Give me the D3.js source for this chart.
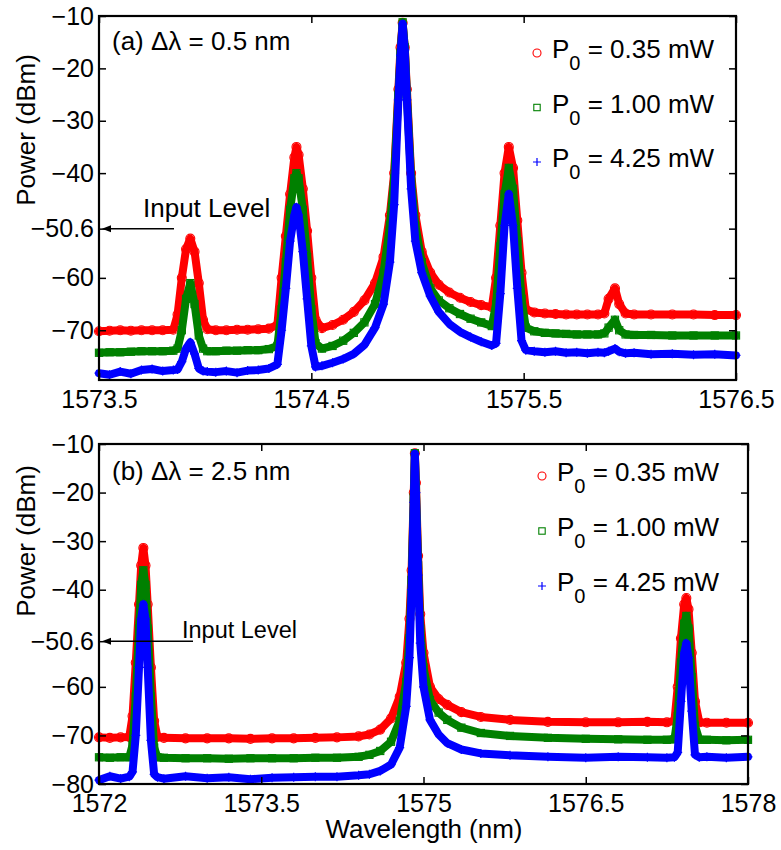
<!DOCTYPE html>
<html><head><meta charset="utf-8">
<script src="https://cdn.jsdelivr.net/npm/d3@7"></script>
<style>body{margin:0;background:#fff}</style>
</head><body><svg id="c" width="781" height="850"></svg>
<script>
// ---------- Panel (a): delta lambda = 0.5 nm ----------
const wlA = [1573.50, 1573.55, 1573.60, 1573.65, 1573.70, 1573.75, 1573.80, 1573.85,
  1573.87, 1573.89, 1573.91, 1573.93, 1573.95, 1573.97, 1573.99, 1574.01,
  1574.05, 1574.10, 1574.15, 1574.20, 1574.25, 1574.30,
  1574.34, 1574.36, 1574.38, 1574.40, 1574.42, 1574.43, 1574.44, 1574.46, 1574.48, 1574.50, 1574.52,
  1574.55, 1574.60, 1574.65, 1574.70, 1574.75, 1574.80,
  1574.84, 1574.87, 1574.89, 1574.91, 1574.92, 1574.93, 1574.94, 1574.95, 1574.97, 1574.99, 1575.02, 1575.06, 1575.10, 1575.15, 1575.20, 1575.25, 1575.30,
  1575.35,
  1575.37, 1575.39, 1575.41, 1575.43, 1575.45, 1575.47, 1575.49, 1575.51,
  1575.55, 1575.60, 1575.65, 1575.70, 1575.75, 1575.80, 1575.85,
  1575.88, 1575.90, 1575.93, 1575.95, 1575.98,
  1576.02, 1576.10, 1576.20, 1576.30, 1576.40, 1576.50];
const redA = [-70.2, -70.1, -70.0, -70.1, -70.0, -70.0, -70.0, -69.9,
  -67, -60, -54.5, -52.5, -55, -61, -68, -69.8,
  -70.0, -70.0, -69.9, -69.9, -69.8, -69.7,
  -69, -60, -52, -44, -37, -35, -36.5, -43, -51, -60, -68,
  -69.6, -69.0, -68.0, -66.5, -64.3, -61.0,
  -56, -48, -40, -24, -16, -11.3, -16, -24, -40, -48, -55, -59, -61.3, -62.8, -63.8, -64.6, -65.2,
  -65.6,
  -60, -50, -40, -35, -39, -49, -59, -66,
  -66.6, -66.8, -66.9, -67.0, -67.0, -67.0, -67.0,
  -66.8, -64, -62, -65, -66.8,
  -67.0, -67.0, -67.0, -67.0, -67.1, -67.1];
const greenA = [-74.3, -74.2, -74.2, -74.1, -74.0, -74.0, -74.0, -73.9,
  -73.5, -70, -64, -61, -65, -71, -73.5, -74.0,
  -74.0, -73.9, -73.9, -73.8, -73.8, -73.6,
  -73, -66, -57, -47, -41, -40, -41, -47, -56, -66, -72.5,
  -73.5, -73.0, -72.0, -70.5, -68.5, -65.0,
  -59, -50, -41, -25, -17, -11.2, -16, -25, -41, -50, -57, -62, -64.3, -65.8, -66.9, -67.8, -68.5,
  -69.2,
  -65, -54, -44, -39, -43, -53, -64, -69.5,
  -70.2, -70.5, -70.6, -70.7, -70.8, -70.8, -70.8,
  -70.6, -69.5, -68, -70, -70.8,
  -70.9, -70.9, -71.0, -71.0, -71.0, -71.0];
const blueA = [-78.2, -78.5, -77.9, -78.3, -77.6, -77.4, -77.8, -77.6,
  -77.5, -76, -73.5, -72.3, -74.5, -77.3, -77.8, -77.9,
  -78.0, -77.8, -78.1, -77.7, -77.6, -77.3,
  -76.5, -70, -62, -53, -48, -46.5, -48, -55, -64, -73, -77,
  -76.8, -76.2, -75.5, -74.5, -72.8, -69.5,
  -65, -57, -46, -26, -17.5, -11.5, -16.5, -26, -43, -53, -59, -63.5, -66.5, -68.8, -70.3, -71.3, -72.2,
  -72.9,
  -72.5, -63, -50, -44, -50, -62, -72, -73.8,
  -74.0, -74.2, -74.0, -74.3, -74.2, -74.4, -74.2,
  -74.3, -74.0, -73.5, -74.1, -74.4,
  -74.3, -74.6, -74.5, -74.7, -74.6, -74.8];
const xTicksA = [1573.5, 1574.5, 1575.5, 1576.5];
const xLabelsA = ["1573.5", "1574.5", "1575.5", "1576.5"];
const yTicksA = [-10, -20, -30, -40, -50.6, -60, -70];

// ---------- Panel (b): delta lambda = 2.5 nm ----------
const wlB = [1572.00, 1572.10, 1572.20, 1572.28,
  1572.31, 1572.34, 1572.37, 1572.39, 1572.41, 1572.43, 1572.45, 1572.48, 1572.51, 1572.54,
  1572.60, 1572.80, 1573.00, 1573.20, 1573.40, 1573.60, 1573.80, 1574.00, 1574.20, 1574.40,
  1574.50, 1574.60, 1574.70, 1574.78,
  1574.84, 1574.87, 1574.89, 1574.91, 1574.92, 1574.93, 1574.95, 1574.97,
  1575.00, 1575.06, 1575.14, 1575.22, 1575.35, 1575.53, 1575.80,
  1576.15, 1576.50, 1576.80,
  1577.07, 1577.25, 1577.32, 1577.35, 1577.38, 1577.41, 1577.43, 1577.45, 1577.48, 1577.51, 1577.55, 1577.62, 1577.80, 1578.00];
const redB = [-70.4, -70.5, -70.4, -70.3,
  -66, -55, -43, -35, -31.4, -35, -43, -56, -67, -70.3,
  -70.5, -70.6, -70.6, -70.6, -70.7, -70.6, -70.6, -70.5, -70.4, -70.2,
  -69.8, -68.8, -66.5, -62,
  -55, -46, -36, -20, -11.9, -18, -33, -45,
  -53, -60, -62.5, -63.7, -65.2, -66.2, -66.8,
  -67.2, -67.3, -67.3,
  -67.2, -67.3, -67, -60, -50, -43, -41.7, -44, -53, -63, -67.3, -67.4, -67.4, -67.4];
const greenB = [-74.5, -74.6, -74.5, -74.5,
  -72, -62, -48, -39, -36, -39, -48, -62, -72.5, -74.5,
  -74.6, -74.7, -74.7, -74.8, -74.7, -74.7, -74.7, -74.6, -74.6, -74.4,
  -74.0, -73.2, -71.3, -67,
  -59, -50, -38, -21, -11.9, -19, -35, -48,
  -56, -62.7, -65.3, -66.8, -68.4, -69.5, -70.1,
  -70.5, -70.7, -70.8,
  -70.9, -70.9, -70.8, -66, -55, -47, -45.4, -48, -58, -68, -70.9, -70.9, -71.0, -70.9];
const blueB = [-79.2, -78.4, -78.9, -78.5,
  -77.5, -70, -56, -46, -43, -46, -56, -71, -78, -78.6,
  -78.9, -78.4, -78.8, -78.6, -79.0, -78.7, -78.6, -78.5, -78.5, -78.2,
  -78.0, -77.3, -76, -72.5,
  -64, -54, -40, -22, -12, -20, -37, -51,
  -60, -66.8, -69.8, -71.6, -72.9, -73.7, -74.1,
  -74.4, -74.6, -74.4,
  -74.5, -74.6, -74.5, -73.5, -63, -53, -51, -54, -65, -74, -74.5, -74.4, -74.6, -74.4];
const xTicksB = [1572, 1573.5, 1575, 1576.5, 1578];
const xLabelsB = ["1572", "1573.5", "1575", "1576.5", "1578"];
const yTicksB = [-10, -20, -30, -40, -50.6, -60, -70, -80];

const legendPowers = ["0.35", "1.00", "4.25"];
const seriesColors = ["#ff0000", "#008000", "#0000ff"];
const seriesShapes = ["circle", "square", "plus"];

const FONT = "'Liberation Sans', Arial, Helvetica, sans-serif";
const svg = d3.select("#c");

function marker(g, shape, cx, cy, color, s) {
  if (shape === "circle") {
    g.append("circle").attr("cx", cx).attr("cy", cy).attr("r", s)
      .attr("fill", "none").attr("stroke", color).attr("stroke-width", 1.1);
  } else if (shape === "square") {
    g.append("rect").attr("x", cx - s * 0.8).attr("y", cy - s * 0.8)
      .attr("width", s * 1.6).attr("height", s * 1.6)
      .attr("fill", "none").attr("stroke", color).attr("stroke-width", 1.1);
  } else {
    g.append("path").attr("d", `M${cx - s},${cy}H${cx + s}M${cx},${cy - s}V${cy + s}`)
      .attr("stroke", color).attr("stroke-width", 1.2).attr("fill", "none");
  }
}

function fmtY(d) { return (d < 0 ? "\u2212" : "") + Math.abs(d); }

function panel(cfg) {
  const x = d3.scaleLinear().domain(cfg.xDomain).range([cfg.left, cfg.right]);
  const y = d3.scaleLinear().domain(cfg.yDomain).range([cfg.bottom, cfg.top]);
  const g = svg.append("g");
  const vals = [cfg.red, cfg.green, cfg.blue];
  vals.forEach((v, k) => {
    const pts = cfg.wl.map((w, i) => [w, v[i]]);
    g.append("path")
      .attr("d", d3.line().x(d => x(d[0])).y(d => y(d[1]))(pts))
      .attr("fill", "none").attr("stroke", seriesColors[k]).attr("stroke-width", 8)
      .attr("stroke-linejoin", "round").attr("stroke-linecap", "round");
    const mg = g.append("g");
    pts.forEach(p => marker(mg, seriesShapes[k], x(p[0]), y(p[1]), seriesColors[k], 4.5));
  });

  // axes
  const styleAxis = sel => {
    sel.select(".domain").remove();
    sel.selectAll("line").attr("stroke", "#000").attr("stroke-width", 1.5);
    sel.selectAll("text").attr("font-family", FONT).attr("font-size", 25).attr("fill", "#000");
  };
  g.append("g").attr("transform", `translate(0,${cfg.bottom})`)
    .call(d3.axisBottom(x).tickValues(cfg.xTicks).tickFormat((d, i) => cfg.xLabels[i])
      .tickSizeInner(-7).tickSizeOuter(0).tickPadding(10)).call(styleAxis);
  g.append("g").attr("transform", `translate(0,${cfg.top})`)
    .call(d3.axisTop(x).tickValues(cfg.xTicks).tickFormat("")
      .tickSizeInner(-7).tickSizeOuter(0)).call(styleAxis);
  g.append("g").attr("transform", `translate(${cfg.left},0)`)
    .call(d3.axisLeft(y).tickValues(cfg.yTicks).tickFormat(fmtY)
      .tickSizeInner(-7).tickSizeOuter(0).tickPadding(5)).call(styleAxis);
  g.append("g").attr("transform", `translate(${cfg.right},0)`)
    .call(d3.axisRight(y).tickValues(cfg.yTicks).tickFormat("")
      .tickSizeInner(-7).tickSizeOuter(0)).call(styleAxis);
  g.append("rect").attr("x", cfg.left).attr("y", cfg.top)
    .attr("width", cfg.right - cfg.left).attr("height", cfg.bottom - cfg.top)
    .attr("fill", "none").attr("stroke", "#000").attr("stroke-width", 2.2);

  // y label
  g.append("text").attr("transform", `translate(${cfg.ylabX},${cfg.ylabY}) rotate(-90)`)
    .attr("text-anchor", "middle").attr("font-family", FONT).attr("font-size", 26)
    .text("Power (dBm)");

  // panel title
  g.append("text").attr("x", cfg.left + 13).attr("y", cfg.titleY)
    .attr("font-family", FONT).attr("font-size", 26).text(cfg.title);

  // legend
  legendPowers.forEach((p, k) => {
    const ly = cfg.legY + k * cfg.legDy;
    marker(g, seriesShapes[k], cfg.legMX, ly - 5, seriesColors[k], 4);
    const t = g.append("text").attr("x", cfg.legTX).attr("y", ly)
      .attr("font-family", FONT).attr("font-size", 26);
    t.append("tspan").text("P");
    t.append("tspan").attr("dy", 12).attr("font-size", 20).text("0");
    t.append("tspan").attr("dy", -12).text(" = " + p + " mW");
  });

  // input level arrow
  const ay = y(-50.6);
  g.append("line").attr("x1", cfg.left + 6).attr("x2", cfg.arrowEnd)
    .attr("y1", ay).attr("y2", ay).attr("stroke", "#000").attr("stroke-width", 1.5);
  g.append("path")
    .attr("d", `M${cfg.left + 3},${ay}L${cfg.left + 12},${ay - 3.5}L${cfg.left + 12},${ay + 3.5}Z`)
    .attr("fill", "#000");
  g.append("text").attr("x", cfg.ilX).attr("y", cfg.ilY)
    .attr("font-family", FONT).attr("font-size", cfg.ilSize).text("Input Level");
}

panel({
  wl: wlA, red: redA, green: greenA, blue: blueA,
  xDomain: [1573.5, 1576.5], yDomain: [-79.5, -10],
  left: 99, right: 736, top: 16, bottom: 380,
  xTicks: xTicksA, xLabels: xLabelsA, yTicks: yTicksA,
  ylabX: 35, ylabY: 130,
  title: "(a) \u0394\u03bb = 0.5 nm", titleY: 50,
  legMX: 537, legTX: 552, legY: 58, legDy: 54.5,
  arrowEnd: 174, ilX: 143, ilY: 217, ilSize: 26
});

panel({
  wl: wlB, red: redB, green: greenB, blue: blueB,
  xDomain: [1572, 1578], yDomain: [-80, -10],
  left: 99, right: 748, top: 444, bottom: 784,
  xTicks: xTicksB, xLabels: xLabelsB, yTicks: yTicksB,
  ylabX: 35, ylabY: 541,
  title: "(b) \u0394\u03bb = 2.5 nm", titleY: 480,
  legMX: 542, legTX: 557, legY: 481, legDy: 55,
  arrowEnd: 193, ilX: 182, ilY: 638, ilSize: 23.5
});

svg.append("text").attr("x", 424).attr("y", 838).attr("text-anchor", "middle")
  .attr("font-family", FONT).attr("font-size", 26).text("Wavelength (nm)");
</script>
</body></html>
